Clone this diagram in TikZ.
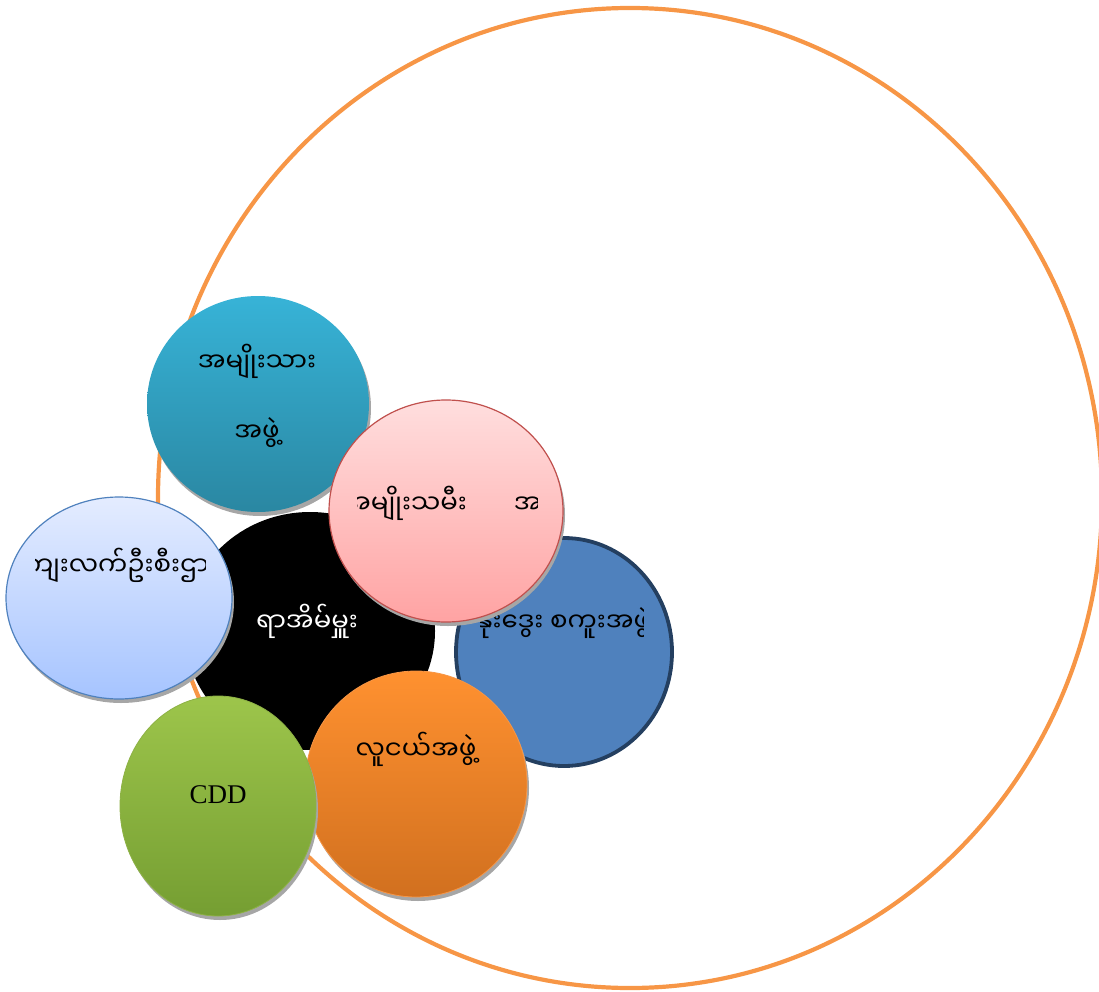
\documentclass[tikz,border=0pt]{standalone}
\usepackage{fontspec}
\setmainfont{Liberation Serif}
\newfontfamily\mm[Script=Myanmar]{Noto Sans Myanmar UI}
\definecolor{ringor}{HTML}{F79646}
\definecolor{tealtop}{HTML}{37B3D7}
\definecolor{tealbot}{HTML}{2A87A2}
\definecolor{pinktop}{HTML}{FFDEDE}
\definecolor{pinkbot}{HTML}{FFA3A3}
\definecolor{pinkline}{HTML}{C0504D}
\definecolor{lbtop}{HTML}{E4ECFF}
\definecolor{lbbot}{HTML}{A6C4FF}
\definecolor{lbline}{HTML}{4F81BD}
\definecolor{bluefill}{HTML}{4F81BD}
\definecolor{blueline}{HTML}{243F60}
\definecolor{ortop}{HTML}{FF9130}
\definecolor{orbot}{HTML}{D1701F}
\definecolor{grtop}{HTML}{9DC54B}
\definecolor{grbot}{HTML}{759E32}
\definecolor{grline}{HTML}{8DB145}
\definecolor{shade}{HTML}{A6A6A6}
\tikzset{
  ring/.style={draw=ringor, line width=4.2pt},
  shadowfill/.style={fill=shade},
  mmtext/.style={font=\mm\fontsize{26}{31}\selectfont, inner sep=0pt, align=center},
  cddtext/.style={font=\fontsize{27}{31}\selectfont, inner sep=0pt}
}
\begin{document}
\begin{tikzpicture}[x=1pt,y=-1pt]
\useasboundingbox (0,0) rectangle (1099,992);
% big ring
\draw[ring] (630,498) ellipse [x radius=472, y radius=490];
% black centre
\fill[black] (310,631) ellipse [x radius=125, y radius=119];
\node[mmtext, text=white] (chief) at (307,621) {ရာအိမ်မှူး};
% blue
\filldraw[fill=bluefill, draw=blueline, line width=3.8pt] (564,652) ellipse [x radius=108, y radius=114];
\begin{scope}
  \clip (480,590) rectangle (643,660);
  \node[mmtext, anchor=west] (ngo) at (476,623) {နုးဒွေး စကူးအဖွဲ့};
\end{scope}
% orange
\fill[shadowfill] (418,788) ellipse [x radius=111, y radius=113];
\shade[top color=ortop, bottom color=orbot, draw=ringor, line width=0.8pt] (416,784) ellipse [x radius=111, y radius=113];
\node[mmtext] (youth) at (416,749) {လူငယ်အဖွဲ့};
% green
\fill[shadowfill] (220,810) ellipse [x radius=98, y radius=110];
\shade[top color=grtop, bottom color=grbot, draw=grline, line width=0.8pt] (218,806) ellipse [x radius=98, y radius=110];
\node[cddtext] (cdd) at (218,795) {CDD};
% light blue
\fill[shadowfill] (121,602) ellipse [x radius=113, y radius=101];
\shade[top color=lbtop, bottom color=lbbot, draw=lbline, line width=1.2pt] (119,598) ellipse [x radius=113, y radius=101];
\begin{scope}
  \clip (35,530) rectangle (205,600);
  \node[mmtext] (rural) at (116,565) {ကျေးလက်ဦးစီးဌာန};
\end{scope}
% teal
\fill[shadowfill] (260,408) ellipse [x radius=111, y radius=108];
\shade[top color=tealtop, bottom color=tealbot] (258,404) ellipse [x radius=111, y radius=108];
\node[mmtext] (men) at (257,396) {အမျိုးသား\\[38pt]အဖွဲ့};
% pink
\fill[shadowfill] (448,515) ellipse [x radius=117, y radius=111];
\shade[top color=pinktop, bottom color=pinkbot, draw=pinkline, line width=1.2pt] (446,511) ellipse [x radius=117, y radius=111];
\begin{scope}
  \clip (357,465) rectangle (537,545);
  \node[mmtext, anchor=west] (women) at (343,503) {အမျိုးသမီး\hspace{47pt}အဖွဲ့};
\end{scope}
\end{tikzpicture}
\end{document}
